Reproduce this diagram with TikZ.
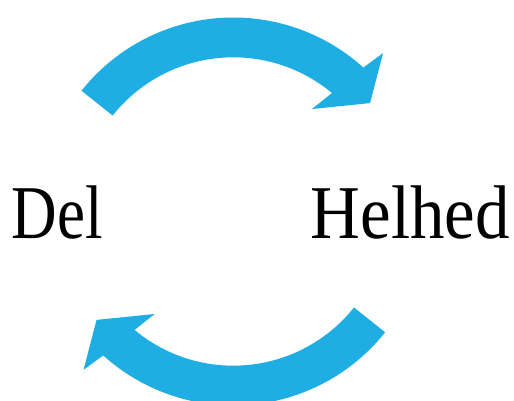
\documentclass[tikz,border=0pt]{standalone}
\usepackage{fontspec}
\setmainfont{Liberation Serif}
\usetikzlibrary{calc}
\definecolor{arrowblue}{RGB}{30,174,227}
\tikzset{
  cyclearrow/.style={fill=arrowblue, draw=none},
  wordlabel/.style={inner sep=0pt, anchor=base, font=\fontsize{76}{80}\selectfont}
}
\begin{document}
\begin{tikzpicture}[x=1pt,y=1pt]
\useasboundingbox (0,0) rectangle (514,401);
\clip (0,0) rectangle (514,401);
\coordinate (C) at (233.3,189.5);
\newcommand{\cyclearrowpath}{%
  \fill[cyclearrow] ($(C)+(141.5:194)$) arc[start angle=141.5, end angle=47.9, radius=194]
    -- ($(C)+(46.6:218)$) -- ($(C)+(38.4:174.5)$) -- ($(C)+(52.5:129.2)$)
    -- ($(C)+(50.2:154.2)$) arc[start angle=50.2, end angle=141.5, radius=154.2] -- cycle;}
\begin{scope}
  \cyclearrowpath
\end{scope}
\begin{scope}[rotate around={180:(C)}]
  \cyclearrowpath
\end{scope}
\node[wordlabel] (del) at (57.2,162.7) {\scalebox{0.83}[1]{Del}};
\node[wordlabel] (helhed) at (410.2,162.7) {\scalebox{0.907}[1]{Helhed}};
\end{tikzpicture}
\end{document}
